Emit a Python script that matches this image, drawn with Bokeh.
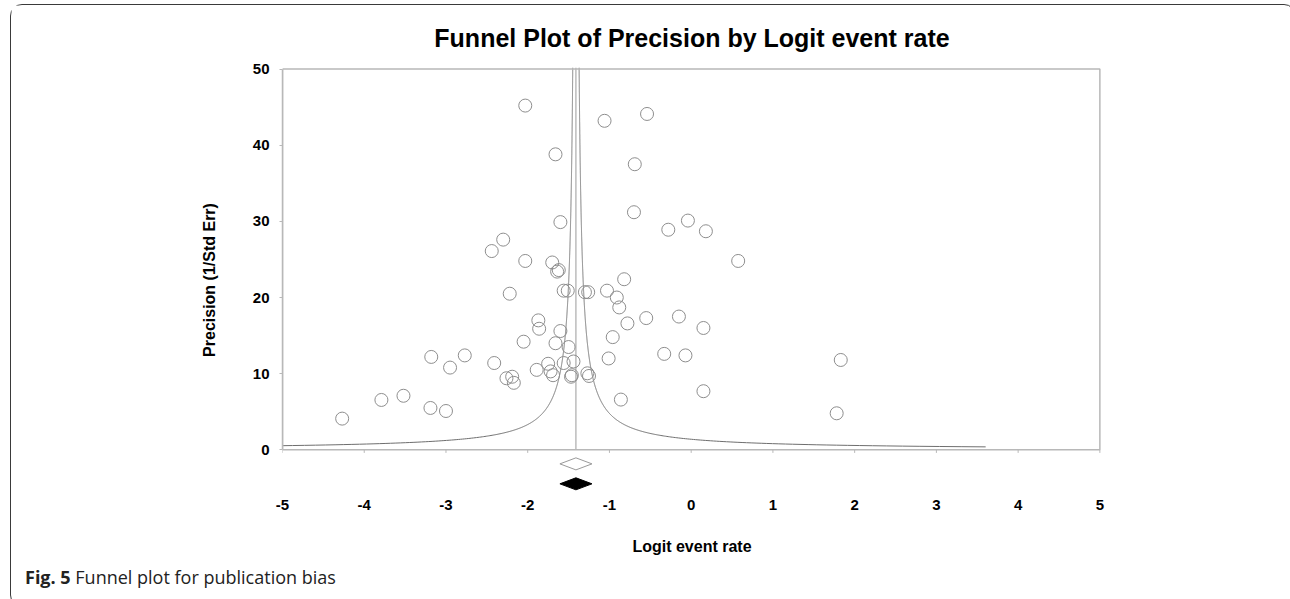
import numpy as np
from bokeh.plotting import figure
from bokeh.models import FixedTicker, Range1d, Div, Title
from bokeh.layouts import column
from bokeh.embed import file_html
from bokeh.resources import INLINE

# ---- data ----
logit_rate = [-2.03, -1.06, -0.54, -1.66, -0.69, -1.60, -0.70, -2.30, -2.44, -0.28, -0.04, 0.18, 0.575,
              -2.03, -1.70, -1.62, -1.64, -2.22, -1.56, -1.51, -1.30, -1.26, -1.03, -0.91, -0.88, -0.82,
              -0.78, -0.55, -0.15, 0.15, -0.96, -1.01, -0.33, -0.07, -0.86, 0.15, 1.83, 1.78,
              -1.87, -1.86, -1.60, -2.05, -1.66, -1.50,
              -3.18, -2.77, -2.95, -2.41, -1.89, -1.75, -1.72, -1.69, -1.56, -1.44, -1.47, -1.46,
              -1.27, -1.25, -2.26, -2.19, -2.17,
              -3.79, -3.52, -3.19, -3.00, -4.27]
precision = [45.2, 43.2, 44.1, 38.8, 37.5, 29.9, 31.2, 27.6, 26.1, 28.9, 30.1, 28.7, 24.8,
             24.8, 24.6, 23.6, 23.4, 20.5, 20.9, 20.9, 20.7, 20.7, 20.9, 20.0, 18.7, 22.4,
             16.6, 17.3, 17.5, 16.0, 14.8, 12.0, 12.6, 12.4, 6.6, 7.7, 11.8, 4.8,
             17.0, 15.9, 15.6, 14.2, 14.0, 13.5,
             12.2, 12.4, 10.8, 11.4, 10.5, 11.3, 10.3, 9.8, 11.4, 11.6, 9.6, 9.8,
             10.05, 9.7, 9.4, 9.6, 8.8,
             6.55, 7.1, 5.5, 5.1, 4.1]
pooled_mean = -1.41          # observed combined logit event rate
pooled_half_ci = 0.196       # half width of 95% CI
adjusted_mean = -1.41        # trim-and-fill adjusted
adjusted_half_ci = 0.196
x_ticks = [-5, -4, -3, -2, -1, 0, 1, 2, 3, 4, 5]
y_ticks = [0, 10, 20, 30, 40, 50]

GRAY = "#8e8e8e"
FRAME = "#b8b8b8"
W = 1274

p = figure(width=W, height=555, output_backend="svg", toolbar_location=None,
           x_range=Range1d(-5, 5.02), y_range=Range1d(-5.6, 50.2),
           min_border_left=271, min_border_right=184, min_border_top=62, min_border_bottom=68)
p.outline_line_color = None
p.grid.visible = False
p.background_fill_color = "white"
p.border_fill_color = "white"

p.title.text = "Funnel Plot of Precision by Logit event rate"
p.title.align = "center"
p.title.text_font = "Liberation Sans"
p.title.text_font_style = "bold"
p.title.text_font_size = "25px"
p.title.text_color = "black"
p.title.standoff = 31

# funnel (95% pseudo-confidence limits)
prec_grid = np.linspace(0.391, 50.2, 2000)
p.line(pooled_mean - 1.96 / prec_grid, prec_grid, line_color="#6e6e6e", line_width=1)
p.line(pooled_mean + 1.96 / prec_grid, prec_grid, line_color="#6e6e6e", line_width=1)
p.segment(x0=[pooled_mean], y0=[0], x1=[pooled_mean], y1=[50.2], line_color="#9a9a9a", line_width=1)

# plot box and x ticks on the zero line
p.quad(left=[x_ticks[0]], right=[x_ticks[-1]], bottom=[y_ticks[0]], top=[y_ticks[-1]],
       fill_color=None, line_color=FRAME, line_width=1.5)
p.segment(x0=x_ticks, y0=[0] * len(x_ticks), x1=x_ticks, y1=[-0.4] * len(x_ticks),
          line_color=FRAME, line_width=1)

# studies
p.scatter(logit_rate, precision, marker="circle", size=13, fill_color=None,
          line_color=GRAY, line_width=1)

# summary diamonds
hh = 0.79
yo, yf = -1.84, -4.46
p.patch([pooled_mean - pooled_half_ci, pooled_mean, pooled_mean + pooled_half_ci, pooled_mean],
        [yo, yo + hh, yo, yo - hh], fill_color="white", line_color="#9a9a9a", line_width=1)
p.patch([adjusted_mean - adjusted_half_ci, adjusted_mean, adjusted_mean + adjusted_half_ci, adjusted_mean],
        [yf, yf + hh, yf, yf - hh], fill_color="black", line_color="black", line_width=1)

# x axis (labels only)
p.xaxis.ticker = FixedTicker(ticks=x_ticks)
p.xaxis.major_label_overrides = {t: str(t) for t in x_ticks}
p.xaxis.axis_line_color = None
p.xaxis.major_tick_line_color = None
p.xaxis.minor_tick_line_color = None
p.xaxis.major_label_standoff = 1
p.xaxis.axis_label = "Logit event rate"
p.xaxis.axis_label_standoff = 25
p.xaxis.axis_label_text_font_size = "16px"

# y axis
p.yaxis.ticker = FixedTicker(ticks=y_ticks)
p.yaxis.major_label_overrides = {t: str(t) for t in y_ticks}
p.yaxis.bounds = (0, 50)
p.yaxis.axis_line_color = FRAME
p.yaxis.axis_line_width = 1.5
p.yaxis.major_tick_line_color = FRAME
p.yaxis.major_tick_in = 0
p.yaxis.major_tick_out = 3
p.yaxis.minor_tick_line_color = None
p.yaxis.major_label_standoff = 10

for ax in (p.xaxis, p.yaxis):
    ax.major_label_text_font = "Liberation Sans"
    ax.major_label_text_font_style = "bold"
    ax.major_label_text_font_size = "15px"
    ax.major_label_text_color = "black"
    ax.axis_label_text_font = "Liberation Sans"
    ax.axis_label_text_font_style = "bold"
    ax.axis_label_text_color = "black"

# y-axis title
p.add_layout(Title(text="Precision (1/Std Err)", align="center", standoff=64,
                   text_font="Liberation Sans", text_font_style="bold", text_font_size="16px",
                   text_color="black"), "left")

caption = Div(text="<b>Fig. 5</b> Funnel plot for publication bias", width=W, height=36,
              styles={"font-family": "'Open Sans'", "font-size": "18px", "color": "#222",
                      "padding-left": "9px", "padding-top": "1px", "line-height": "22px"})

layout = column(p, caption, spacing=0,
                styles={"border": "1px solid #3a3a3a", "border-radius": "12px",
                        "margin-left": "10px", "margin-top": "4px", "background": "white"})

open("out.html", "w").write(file_html(layout, INLINE))
